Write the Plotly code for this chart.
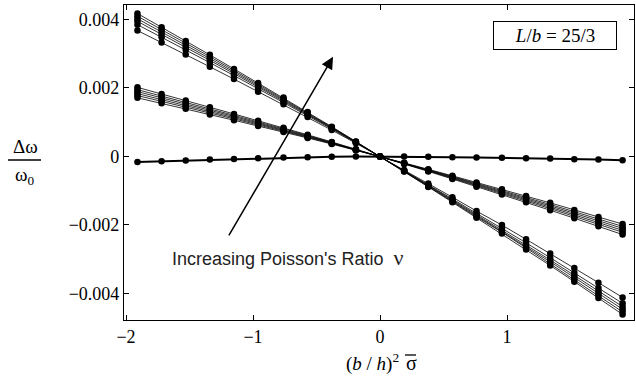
import plotly.graph_objects as go

# x positions of the computed points: (b/h)^2 * sigma_bar
x_vals = [-1.91, -1.72, -1.53, -1.34, -1.15, -0.96, -0.76, -0.57, -0.38, -0.19, 0.0,
          0.19, 0.38, 0.57, 0.76, 0.96, 1.15, 1.34, 1.53, 1.72, 1.91]

# Values below are in units of 1e-3 (delta omega / omega0), one list per Poisson ratio
steep_nu1 = [3.677, 3.330, 2.977, 2.619, 2.259, 1.893, 1.524, 1.150, 0.770, 0.388, 0.0,
             -0.392, -0.788, -1.188, -1.594, -2.003, -2.417, -2.835, -3.257, -3.684, -4.115]
steep_nu2 = [3.849, 3.484, 3.115, 2.740, 2.362, 1.979, 1.592, 1.201, 0.805, 0.405, 0.0,
             -0.409, -0.823, -1.239, -1.662, -2.089, -2.520, -2.956, -3.395, -3.838, -4.287]
steep_nu3 = [3.945, 3.570, 3.191, 2.807, 2.419, 2.027, 1.631, 1.230, 0.824, 0.414, 0.0,
             -0.418, -0.842, -1.268, -1.701, -2.137, -2.577, -3.023, -3.471, -3.924, -4.383]
steep_nu4 = [4.021, 3.639, 3.252, 2.860, 2.465, 2.065, 1.661, 1.253, 0.839, 0.422, 0.0,
             -0.426, -0.857, -1.291, -1.731, -2.175, -2.623, -3.076, -3.532, -3.993, -4.459]
steep_nu5 = [4.098, 3.708, 3.313, 2.914, 2.511, 2.103, 1.692, 1.276, 0.854, 0.430, 0.0,
             -0.434, -0.872, -1.314, -1.762, -2.213, -2.669, -3.130, -3.593, -4.062, -4.536]
steep_nu6 = [4.174, 3.777, 3.374, 2.967, 2.557, 2.142, 1.722, 1.299, 0.870, 0.437, 0.0,
             -0.441, -0.888, -1.337, -1.792, -2.252, -2.715, -3.183, -3.654, -4.131, -4.612]

mid_nu1 = [1.712, 1.553, 1.391, 1.226, 1.059, 0.889, 0.716, 0.541, 0.364, 0.183, 0.0,
           -0.185, -0.374, -0.565, -0.758, -0.955, -1.153, -1.354, -1.559, -1.765, -1.974]
mid_nu2 = [1.779, 1.613, 1.444, 1.273, 1.099, 0.922, 0.743, 0.561, 0.377, 0.190, 0.0,
           -0.192, -0.387, -0.585, -0.785, -0.988, -1.193, -1.401, -1.612, -1.825, -2.041]
mid_nu3 = [1.836, 1.665, 1.490, 1.313, 1.133, 0.951, 0.766, 0.578, 0.388, 0.196, 0.0,
           -0.198, -0.398, -0.602, -0.808, -1.017, -1.227, -1.441, -1.658, -1.877, -2.098]
mid_nu4 = [1.894, 1.716, 1.536, 1.353, 1.168, 0.979, 0.789, 0.595, 0.400, 0.201, 0.0,
           -0.203, -0.410, -0.619, -0.831, -1.045, -1.262, -1.481, -1.704, -1.928, -2.156]
mid_nu5 = [1.951, 1.768, 1.582, 1.393, 1.202, 1.008, 0.812, 0.613, 0.411, 0.207, 0.0,
           -0.209, -0.421, -0.637, -0.854, -1.074, -1.296, -1.521, -1.750, -1.980, -2.213]
mid_nu6 = [2.018, 1.828, 1.635, 1.440, 1.242, 1.041, 0.839, 0.633, 0.425, 0.214, 0.0,
           -0.216, -0.435, -0.657, -0.881, -1.107, -1.336, -1.568, -1.802, -2.040, -2.280]

flat_all = [-0.16, -0.14, -0.12, -0.09, -0.07, -0.05, -0.03, -0.02, -0.01, 0.0, 0.0,
            0.0, -0.01, -0.02, -0.03, -0.04, -0.05, -0.06, -0.08, -0.09, -0.11]

y_tick_vals = [-0.004, -0.002, 0.0, 0.002, 0.004]
y_tick_text = ["\u22120.004", "\u22120.002", "0", "0.002", "0.004"]
x_tick_vals = [-2, -1, 0, 1, 2]
x_tick_text = ["\u22122", "\u22121", "0", "1", "2"]

SCALE = 1e-3
series = [steep_nu1, steep_nu2, steep_nu3, steep_nu4, steep_nu5, steep_nu6,
          mid_nu1, mid_nu2, mid_nu3, mid_nu4, mid_nu5, mid_nu6]

fig = go.Figure()
for s in series:
    fig.add_trace(go.Scatter(
        x=x_vals, y=[v * SCALE for v in s], mode="lines+markers",
        line=dict(color="black", width=0.8),
        marker=dict(color="black", size=6.5),
        showlegend=False, hoverinfo="skip"))
fig.add_trace(go.Scatter(
    x=x_vals, y=[v * SCALE for v in flat_all], mode="lines+markers",
    line=dict(color="black", width=2),
    marker=dict(color="black", size=6.5),
    showlegend=False, hoverinfo="skip"))

SERIF = "Liberation Serif"
SANS = "Liberation Sans"

# plot area in pixels
L, R, T, B = 124, 2, 5, 61
W, H = 636, 381
PW, PH = W - L - R, H - T - B


def px(xpix):
    return (xpix - L) / PW


def py(ypix):
    return (H - B - ypix) / PH


def axis_style():
    return dict(showline=True, linecolor="black", linewidth=1.2, mirror="allticks",
                ticks="inside", ticklen=5, tickcolor="black", showgrid=False,
                zeroline=False, tickfont=dict(family=SERIF, size=18, color="black"))


fig.update_layout(
    template="none",
    width=W, height=H,
    margin=dict(l=L, r=R, t=T, b=B, autoexpand=False),
    paper_bgcolor="white", plot_bgcolor="white",
    font=dict(family=SERIF, color="black", size=18),
    xaxis=dict(range=[-2.016, 2.0], tickvals=x_tick_vals, ticktext=x_tick_text,
               **axis_style()),
    yaxis=dict(range=[-0.004774, 0.004423], tickvals=y_tick_vals, ticktext=y_tick_text,
               **axis_style()),
)

annotations = [
    # y-axis title as a fraction
    dict(text="\u0394\u03c9", xref="paper", yref="paper", x=px(25), y=py(146),
         showarrow=False, font=dict(family=SERIF, size=19), xanchor="center", yanchor="middle"),
    dict(text="\u03c9<sub>0</sub>", xref="paper", yref="paper", x=px(25), y=py(176),
         showarrow=False, font=dict(family=SERIF, size=19), xanchor="center", yanchor="middle"),
    # x-axis title: (b/h)^2 and sigma (overbar drawn as a shape)
    dict(text="(<i>b</i> / <i>h</i>)<sup>2</sup>", xref="paper", yref="paper",
         x=px(401), y=py(362), showarrow=False,
         font=dict(family=SERIF, size=19), xanchor="right", yanchor="middle"),
    dict(text="\u03c3", xref="paper", yref="paper",
         x=px(404), y=py(363), showarrow=False,
         font=dict(family=SERIF, size=20), xanchor="left", yanchor="middle"),
    # legend box
    dict(text="<i>L</i>/<i>b</i> = 25/3", xref="paper", yref="paper",
         x=px(555), y=py(35), showarrow=False,
         font=dict(family=SERIF, size=19), xanchor="center", yanchor="middle",
         bordercolor="black", borderwidth=1, borderpad=2, width=118, height=23),
    # arrow
    dict(x=-0.37, y=0.00291, ax=-1.197, ay=-0.00235, xref="x", yref="y",
         axref="x", ayref="y", text="", showarrow=True, arrowhead=2,
         arrowsize=1.6, arrowwidth=1.5, arrowcolor="black", standoff=0),
    dict(text="Increasing Poisson's Ratio  <span style='font-family:Liberation Serif;font-size:22px'>\u03bd</span>",
         xref="paper", yref="paper", x=px(170), y=py(257), showarrow=False,
         font=dict(family=SANS, size=18, color="#222"),
         xanchor="left", yanchor="middle"),
]
fig.update_layout(annotations=annotations)

# fraction bar of the y title
fig.add_shape(type="line", xref="paper", yref="paper",
              x0=px(8), x1=px(41), y0=py(160), y1=py(160),
              line=dict(color="black", width=1.5))
# overbar of sigma in the x title
fig.add_shape(type="line", xref="paper", yref="paper",
              x0=px(405), x1=px(416), y0=py(355), y1=py(355),
              line=dict(color="black", width=1.3))

fig.write_html("out.html", config={"displayModeBar": False},
               post_script="document.body.style.margin='0';document.body.style.padding='0';")
